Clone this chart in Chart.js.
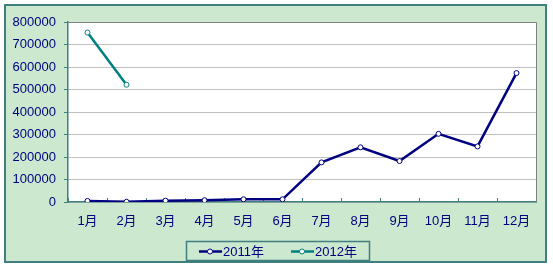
<!DOCTYPE html>
<html>
<head>
<meta charset="utf-8">
<script src="https://cdn.jsdelivr.net/npm/chart.js@4/dist/chart.umd.min.js"></script>
<style>
  html, body { margin: 0; padding: 0; background: #fff; }
  #wrap { width: 553px; height: 267px; }
</style>
</head>
<body>
<div id="wrap"><canvas id="canvas" width="553" height="267"></canvas></div>
<script>
const months = ['1月','2月','3月','4月','5月','6月','7月','8月','9月','10月','11月','12月']
const sales2011 = [5000, 1000, 6000, 8000, 12000, 12000, 176000, 243000, 182000, 303000, 247000, 573000]
const sales2012 = [753000, 521000, null, null, null, null, null, null, null, null, null, null]
const seriesNames = ['2011年', '2012年']

const navy = '#000080'
const teal = '#008080'
const frame = '#3f7f7f'
const fontFam = "'Liberation Sans', Arial, 'Noto Sans CJK SC', sans-serif"

// background, frames and legend drawn the Excel way
const excelLook = {
  id: 'excelLook',
  beforeDraw(chart) {
    const c = chart.ctx
    const a = chart.chartArea
    c.save()
    c.fillStyle = '#fff'
    c.fillRect(0, 0, chart.width, chart.height)
    c.fillStyle = '#cce8cf'
    c.fillRect(5, 5, 541, 257)
    c.strokeStyle = frame
    c.lineWidth = 2
    c.strokeRect(5, 5, 541, 257)
    c.fillStyle = '#fff'
    c.fillRect(a.left, a.top, a.right - a.left, a.bottom - a.top)
    c.restore()
  },
  afterDatasetsDraw(chart) {
    const c = chart.ctx
    const a = chart.chartArea
    c.save()
    c.strokeStyle = '#808080'
    c.lineWidth = 1
    c.beginPath()
    c.moveTo(a.left, a.top + 0.5)
    c.lineTo(a.right + 0.5, a.top + 0.5)
    c.lineTo(a.right + 0.5, a.bottom)
    c.stroke()

    // legend
    c.strokeStyle = frame
    c.lineWidth = 1.5
    c.strokeRect(186.5, 241.5, 183, 19)
    const items = [
      { x: 199, color: navy, text: seriesNames[0] },
      { x: 291, color: teal, text: seriesNames[1] }
    ]
    c.font = '13px ' + fontFam
    c.textBaseline = 'middle'
    items.forEach(it => {
      const y = 251.5
      c.strokeStyle = it.color
      c.lineWidth = 2.5
      c.beginPath()
      c.moveTo(it.x, y)
      c.lineTo(it.x + 23, y)
      c.stroke()
      c.fillStyle = '#fff'
      c.lineWidth = 1
      c.beginPath()
      c.arc(it.x + 11, y, 2.5, 0, Math.PI * 2)
      c.fill()
      c.stroke()
      c.fillStyle = navy
      c.fillText(it.text, it.x + 24, y + 0.5)
    })
    c.restore()
  }
}

new Chart(document.getElementById('canvas'), {
  type: 'line',
  data: {
    labels: months,
    datasets: [
      {
        label: seriesNames[0],
        data: sales2011,
        borderColor: navy,
        borderWidth: 2.5,
        pointRadius: 2.5,
        pointBackgroundColor: '#fff',
        pointBorderColor: navy,
        pointBorderWidth: 1,
        tension: 0
      },
      {
        label: seriesNames[1],
        data: sales2012,
        borderColor: teal,
        borderWidth: 2.5,
        pointRadius: 2.5,
        pointBackgroundColor: '#fff',
        pointBorderColor: teal,
        pointBorderWidth: 1,
        tension: 0,
        spanGaps: false
      }
    ]
  },
  options: {
    responsive: false,
    animation: false,
    devicePixelRatio: 1,
    layout: { padding: { left: 0, right: 17, top: 22, bottom: 0 } },
    plugins: {
      legend: { display: false },
      tooltip: { enabled: false }
    },
    scales: {
      x: {
        offset: true,
        afterFit(s) { s.height = 65 },
        grid: {
          display: true,
          offset: true,
          drawOnChartArea: false,
          drawTicks: true,
          tickLength: -4,
          color: frame
        },
        border: { color: frame, width: 1.5 },
        ticks: {
          color: navy,
          padding: 16,
          font: { family: fontFam, size: 13 }
        }
      },
      y: {
        min: 0,
        max: 800000,
        afterFit(s) { s.width = 68 },
        ticks: {
          stepSize: 100000,
          color: navy,
          padding: 8,
          font: { family: fontFam, size: 13 },
          callback: v => String(v)
        },
        grid: {
          color: '#c0c0c0',
          tickColor: frame,
          tickLength: 4,
          lineWidth: 1
        },
        border: { color: frame, width: 1.5 }
      }
    }
  },
  plugins: [excelLook]
})
</script>
</body>
</html>
